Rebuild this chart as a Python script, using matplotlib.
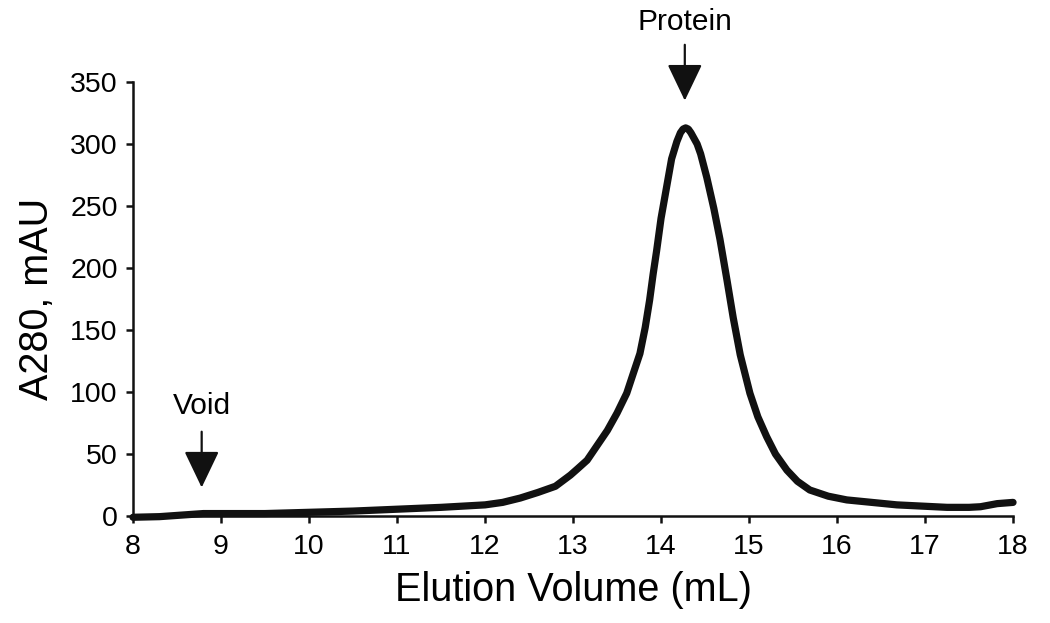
import matplotlib
matplotlib.use("Agg")
import matplotlib.pyplot as plt

plt.rcParams['font.family'] = ['Liberation Sans', 'DejaVu Sans']

# Elution profile (mL, mAU)
elution_ml = [8.0, 8.3, 8.6, 8.8, 9.0, 9.5, 10.0, 10.5, 11.0, 11.5, 12.0, 12.2,
              12.4, 12.6, 12.8, 12.97, 13.05, 13.16, 13.39, 13.5, 13.61, 13.68,
              13.76, 13.82, 13.87, 13.91, 13.95, 14.0, 14.07, 14.12, 14.18, 14.22,
              14.25, 14.28, 14.31, 14.34, 14.41, 14.45, 14.52, 14.6, 14.67, 14.75,
              14.82, 14.9, 15.01, 15.1, 15.2, 15.3, 15.43, 15.55, 15.69, 15.9,
              16.11, 16.68, 17.25, 17.5, 17.63, 17.82, 18.0]
a280_mau = [-1, -0.5, 1, 2, 2, 2, 3, 4, 5.5, 7, 9, 11,
            14.5, 19, 24, 33, 38, 45, 69, 83, 99, 114,
            131, 152, 174, 195, 214, 240, 268, 288, 302, 309,
            312, 313, 312, 309, 300, 292, 273, 248, 223, 190,
            160, 130, 99, 80, 64, 50, 37, 28, 21, 16,
            13, 9, 7, 7, 7.5, 10, 11]

x_ticks = [8, 9, 10, 11, 12, 13, 14, 15, 16, 17, 18]
y_ticks = [0, 50, 100, 150, 200, 250, 300, 350]

# peak markers: label, position, arrow tail, arrow tip, text height
markers = [("Void", 8.78, 68, 23, 89),
           ("Protein", 14.27, 380, 335, 398)]

fig = plt.figure(figsize=(10.5, 6.23), dpi=100)
ax = fig.add_axes([0.1267, 0.1717, 0.8381, 0.6967])

ax.plot(elution_ml, a280_mau, color='#111111', lw=5.2, solid_joinstyle='round',
        solid_capstyle='round', clip_on=False, zorder=3)

ax.set_xlim(8, 18)
ax.set_ylim(0, 350)
ax.set_xticks(x_ticks)
ax.set_yticks(y_ticks)

for side in ['top', 'right']:
    ax.spines[side].set_visible(False)
for side in ['left', 'bottom']:
    ax.spines[side].set_linewidth(1.8)
    ax.spines[side].set_color('#111111')

ax.tick_params(axis='both', direction='out', length=5, width=1.8,
               color='#111111', labelsize=20.5, pad=6)
ax.tick_params(axis='x', pad=8)

ax.set_xlabel("Elution Volume (mL)", fontsize=28.5, labelpad=8)
ax.set_ylabel("A280, mAU", fontsize=28.5, labelpad=10)

for label, xpos, tail, tip, text_y in markers:
    ax.annotate("", xy=(xpos, tip), xytext=(xpos, tail),
                arrowprops=dict(arrowstyle='-|>,head_length=1.15,head_width=0.55',
                                mutation_scale=20, lw=1.6, color='#111111',
                                shrinkA=0, shrinkB=0),
                annotation_clip=False)
    ax.text(xpos, text_y, label, ha='center', va='center', fontsize=21.5,
            clip_on=False)

fig.savefig("out.png", dpi=100)
